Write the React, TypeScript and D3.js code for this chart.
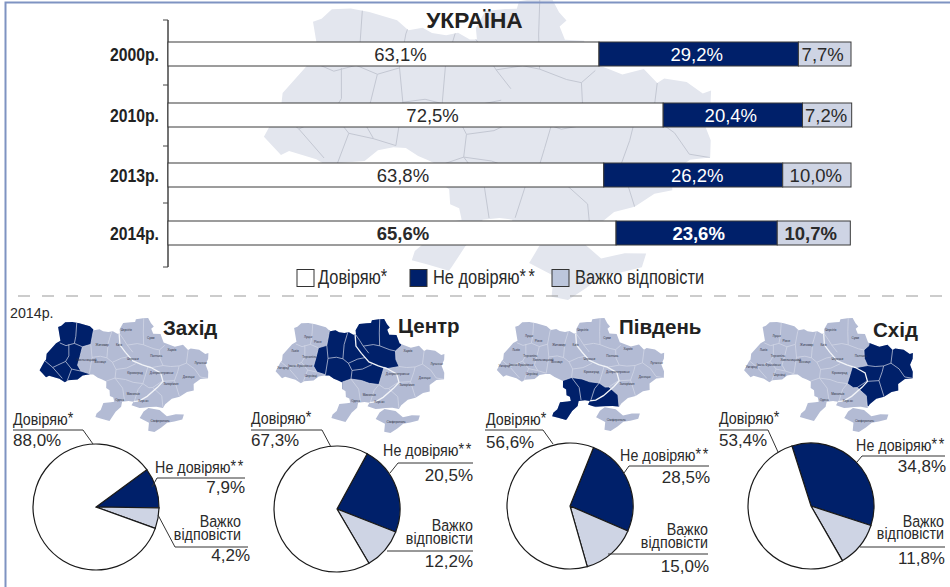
import React from 'react';
import * as d3 from 'd3';

const width = 950;
const height = 587;

// top block
const years = ['2000р.', '2010р.', '2013р.', '2014р.'];
const trust = [63.1, 72.5, 63.8, 65.6];
const distrust = [29.2, 20.4, 26.2, 23.6];
const hard = [7.7, 7.2, 10.0, 10.7];
const trustLabel = 'Довіряю';
const distrustLabel = 'Не довіряю';
const hardLabel = 'Важко відповісти';

// regions
const regionNames = ['Захід', 'Центр', 'Південь', 'Схід'];
const pieTrustLabels = ['88,0%', '67,3%', '56,6%', '53,4%'];
const pieDistrustLabels = ['7,9%', '20,5%', '28,5%', '34,8%'];
const pieHardLabels = ['4,2%', '12,2%', '15,0%', '11,8%'];
// slice shares as they are drawn in the picture, they differ a bit from the printed numbers
const drawnDistrust = [10.3, 23.0, 25.4, 34.9];
const drawnHard = [5.3, 10.6, 14.1, 11.7];
const drawnTrust = [84.4, 66.4, 60.5, 53.4];
const pieStartDeg = [53.7, 28.6, 21.9, -17.6];

const NAVY = '#00206a';
const PALE = '#ced4e4';
const LINE = '#333';
const SANS = '"Liberation Sans", sans-serif';

type P = [number, number];

// map outline, lon/lat
const mainland: P[] = [
  [23.65, 51.55], [24.0, 51.65], [24.4, 51.92], [25.2, 51.98], [26.0, 51.92], [27.2, 51.75], [27.7, 51.5],
  [28.3, 51.58], [28.7, 51.45], [29.3, 51.4], [29.8, 51.47], [30.3, 51.3], [30.6, 51.3], [30.55, 51.6],
  [30.95, 52.05], [31.8, 52.1], [32.3, 52.1], [32.4, 52.3], [33.2, 52.36], [33.8, 52.36], [34.1, 51.98],
  [34.4, 51.75], [34.1, 51.6], [34.3, 51.25], [35.1, 51.2], [35.4, 50.6], [36.1, 50.4], [36.6, 50.25],
  [37.5, 50.35], [38.0, 49.95], [38.3, 50.05], [39.2, 49.9], [39.8, 49.55], [40.15, 49.6], [40.05, 49.2],
  [39.7, 48.8], [39.9, 48.3], [39.8, 47.85], [39.0, 47.85], [38.25, 47.55], [38.2, 47.1], [37.5, 47.05],
  [36.7, 46.75], [35.9, 46.65], [35.2, 46.3], [34.95, 46.05], [34.3, 46.15], [33.6, 46.15], [33.0, 46.12],
  [32.6, 46.1], [31.8, 46.3], [32.0, 46.55], [31.5, 46.6], [30.85, 46.55], [30.75, 46.2], [30.2, 45.85],
  [29.7, 45.3], [29.6, 45.2], [28.8, 45.35], [28.2, 45.45], [28.3, 45.7], [28.7, 45.95], [28.95, 46.45],
  [29.7, 46.5], [30.05, 46.55], [29.95, 46.85], [29.6, 46.95], [29.55, 47.35], [29.2, 47.5], [29.2, 47.95],
  [28.7, 48.1], [28.3, 48.2], [27.8, 48.4], [27.3, 48.4], [26.7, 48.3], [26.2, 48.0], [25.2, 47.9],
  [24.9, 47.75], [24.3, 47.95], [23.2, 48.1], [22.9, 47.97], [22.15, 48.4], [22.55, 49.05], [22.7, 49.2],
  [22.7, 49.6], [23.6, 50.4], [24.05, 50.6],
];
const crimea: P[] = [
  [33.5, 46.08], [34.6, 45.92], [35.3, 45.45], [36.2, 45.55], [37.0, 45.5], [36.8, 45.15], [36.0, 45.05],
  [35.3, 45.0], [34.7, 44.7], [34.0, 44.4], [33.4, 44.5], [33.5, 45.05], [32.6, 45.4], [33.0, 45.85],
];

// highlighted regions, the outer side overshoots and gets clipped by the outline
const regionShapes: P[][] = [
  [[27.8, 53], [27.6, 51.4], [27.4, 50.5], [26.5, 50.3], [26.3, 49.6], [26.1, 49.0], [26.5, 48.6], [27.4, 48.45], [27.3, 47], [21, 47], [21, 53]],
  [[26.5, 50.3], [26.3, 49.6], [26.1, 49.0], [26.5, 48.6], [27.4, 48.45], [27.5, 47], [29.2, 47], [29.2, 47.98], [30.1, 48.2], [31.2, 48.1], [32.0, 47.9], [33.0, 47.8], [33.3, 48.4], [33.6, 49.0], [34.0, 48.9], [35.2, 49.0], [34.9, 49.5], [34.9, 50.1], [35.5, 50.4], [36, 51.5], [35, 53], [27.7, 53], [27.6, 51.4], [27.4, 50.5]],
  [[29.2, 47.98], [30.1, 48.2], [31.2, 48.1], [32.0, 47.9], [33.0, 47.8], [33.6, 47.5], [34.0, 47.5], [34.9, 46.9], [34.95, 46.1], [33.5, 46.14], [32, 46.14], [28, 44.5], [27.5, 47], [29.2, 47]],
  [[33.6, 49.0], [34.0, 48.9], [35.2, 49.0], [34.9, 49.5], [34.9, 50.1], [35.5, 50.4], [36, 51.5], [41, 51], [41, 46], [35.5, 46.1], [34.95, 46.2], [34.9, 46.9], [34.0, 47.5], [33.6, 47.5], [33.0, 47.8], [33.3, 48.4]],
];

// oblast borders
const borders: P[][] = [
  [[25.7, 52.1], [25.7, 51.0], [25.6, 50.5]],
  [[24.0, 50.45], [24.7, 50.3], [25.6, 50.5], [26.5, 50.3]],
  [[25.0, 50.4], [25.1, 49.6], [24.8, 49.2], [24.0, 48.9], [23.5, 48.7], [22.6, 49.1]],
  [[23.5, 48.7], [24.6, 48.0]],
  [[24.8, 49.2], [25.5, 48.7], [25.1, 47.8]],
  [[25.5, 48.7], [26.5, 48.6], [27.4, 48.45]],
  [[26.5, 50.3], [26.3, 49.6], [26.1, 49.0], [26.5, 48.6]],
  [[27.7, 51.6], [27.6, 51.4], [27.4, 50.5], [26.5, 50.3]],
  [[27.4, 50.5], [27.6, 49.6], [27.4, 48.45]],
  [[27.6, 49.6], [28.5, 49.7], [29.2, 49.6], [29.8, 49.3], [30.2, 48.8], [30.1, 48.2], [29.2, 47.98]],
  [[29.7, 51.5], [29.3, 50.6], [29.2, 49.6]],
  [[30.5, 51.35], [31.0, 50.9], [31.4, 50.5], [32.0, 50.0]],
  [[29.8, 49.3], [30.8, 49.6], [31.6, 49.7]],
  [[33.3, 52.4], [33.2, 51.4], [33.2, 50.5]],
  [[31.4, 50.5], [32.5, 50.6], [33.2, 50.5], [34.3, 50.2], [34.9, 50.1], [35.5, 50.4]],
  [[34.9, 50.1], [34.9, 49.5], [35.2, 49.0], [34.0, 48.9], [33.6, 49.0], [33.3, 48.4], [33.0, 47.8]],
  [[30.2, 48.8], [31.3, 48.9], [32.3, 49.2]],
  [[30.1, 48.2], [31.2, 48.1], [32.0, 47.9], [33.0, 47.8], [33.6, 47.5], [34.0, 47.5]],
  [[30.1, 48.2], [30.9, 47.5], [31.1, 46.6]],
  [[33.0, 47.8], [32.5, 47.4], [32.1, 46.6]],
  [[34.0, 47.5], [34.9, 46.9], [34.95, 46.1]],
  [[34.0, 47.5], [35.0, 47.9], [36.3, 47.9], [36.7, 46.75]],
  [[36.3, 47.9], [36.7, 48.5], [36.9, 48.9], [37.7, 49.05], [38.0, 49.95]],
  [[35.2, 49.0], [36.0, 48.9], [36.9, 48.9]],
  [[37.7, 49.05], [38.5, 48.6], [39.0, 48.0], [39.8, 47.85]],
];
const dnipro: P[] = [
  [30.5, 51.3], [30.6, 50.5], [31.2, 50.0], [32.0, 49.4], [33.0, 49.1], [33.9, 48.9], [34.9, 48.5],
  [35.1, 47.9], [34.5, 47.5], [33.4, 46.9], [32.6, 46.6], [32.0, 46.55],
];

// tiny captions on the small maps: name, lon, lat, index of the region it is in (-1 none)
const cities: [string, number, number, number][] = [
  ['Луцьк', 25.3, 50.9, 0], ['Рівне', 26.4, 50.65, 0], ['Львів', 24.0, 49.85, 0], ['Тернопіль', 25.6, 49.55, 0],
  ['Хмельницький', 27.0, 49.3, 1], ['Ужгород', 22.9, 48.65, 0], ['Івано-Франківськ', 24.7, 48.85, 0], ['Чернівці', 25.9, 48.25, 0],
  ['Житомир', 28.65, 50.4, 1], ['Київ', 30.5, 50.45, 1], ['Вінниця', 28.5, 49.2, 1], ['Черкаси', 32.0, 49.45, 1],
  ['Чернігів', 31.3, 51.5, 1], ['Суми', 34.0, 50.9, 1], ['Полтава', 34.5, 49.6, 1], ['Кіровоград', 32.2, 48.5, 1],
  ['Харків', 36.25, 50.0, 3], ['Луганськ', 39.2, 48.9, 3], ['Донецьк', 37.8, 48.0, 3], ['Дніпропетровськ', 35.0, 48.45, 3],
  ['Запоріжжя', 35.9, 47.6, 3], ['Миколаїв', 32.0, 47.0, 2], ['Одеса', 30.6, 46.6, 2], ['Херсон', 33.0, 46.5, 2],
  ['Сімферополь', 34.6, 45.1, -1],
];

const mapBoxes: [P, P][] = [
  [[38, 318], [210, 432]],
  [[273, 319], [447, 433]],
  [[496, 318], [665, 431]],
  [[743, 318], [914, 432]],
];

// fixed spots of the bar block
const barCenters = [54, 115, 175, 233];
const axisTicks = [20, 85, 146, 203, 267];
const trustNudge = [17, 17, 17, 11];
const distrustNudge = [-2, -2, 4, 2];
const hardNudge = [-2, -1, -1, -3];

// pies and their callouts
const pieCenters: P[] = [[96, 507], [337, 509], [570, 506], [811, 506]];
const pieRadius = 63;
const trustLeader: P[][] = [
  [[13, 430], [83, 430], [93, 444]],
  [[251, 430], [322, 430], [331, 447]],
  [[485, 430], [543, 430], [553, 444]],
  [[719, 430], [768, 430], [778, 452]],
];
const distrustLeader: P[][] = [
  [[245, 478], [157, 478], [152, 487]],
  [[473, 463], [398, 463], [390, 473]],
  [[709, 466], [629, 466], [624, 473]],
  [[945, 456], [862, 456], [857, 462]],
];
const hardLeader: P[][] = [
  [[248, 547], [175, 547], [158, 515]],
  [[473, 551], [387, 551]],
  [[708, 554], [608, 554]],
  [[945, 547], [860, 547]],
];
const trustText = [[13, 425, 446], [251, 424, 446], [486, 425, 448], [719, 424, 446]];
const distrustText = [[245, 473, 493], [473, 456, 481], [710, 461, 483], [946, 451, 472]];
const hardText = [[241, 527, 540, 250, 561], [473, 531, 544, 473, 567], [708, 535, 548, 709, 572], [944, 527, 539, 945, 564]];
const titleSpots: P[] = [[163, 335], [398, 333], [619, 334], [873, 337]];

const outlineGeo = { type: 'MultiPoint', coordinates: [...mainland, ...crimea] } as any;
const line = d3.line();
const closed = (pts: P[], proj: d3.GeoProjection) => `${line(pts.map(p => proj(p) as P))}Z`;

// condensed text: no narrow face is installed, so squeeze the regular one
type NarrowProps = {
  x: number; y: number; size: number; squeeze: number; anchor?: string; weight?: string; fill?: string;
  children: React.ReactNode;
};
const Narrow = ({ x, y, size, squeeze, anchor, weight, fill, children }: NarrowProps) => (
  <text transform={`translate(${x},${y}) scale(${squeeze},1)`} fontFamily={SANS} fontSize={size}
    textAnchor={anchor || 'start'} fontWeight={weight || 'normal'} fill={fill || '#2a2a2a'}>
    {children}
  </text>
);

type MapProps = { id: string; box: [P, P]; big?: boolean; highlight?: number };

const UkraineMap = ({ id, box, big, highlight }: MapProps) => {
  const proj = d3.geoConicConformal().parallels([45, 52]).rotate([-31, 0]).fitExtent(box, outlineGeo);
  const land = closed(mainland, proj);
  const isle = closed(crimea, proj);
  return (
    <g>
      <clipPath id={id}><path d={land} /></clipPath>
      <path d={land} fill={big ? '#e3e6ee' : '#b3bbd4'} />
      <path d={isle} fill={big ? '#e3e6ee' : '#b3bbd4'} />
      {highlight !== undefined && (
        <path d={closed(regionShapes[highlight], proj)} fill={NAVY} clipPath={`url(#${id})`} />
      )}
      <g clipPath={`url(#${id})`} fill="none">
        {borders.map((b, i) => (
          <path key={i} d={line(b.map(p => proj(p) as P)) as string}
            stroke={big ? '#c3c7d2' : '#d5dae8'} strokeWidth={big ? 1 : 0.7} />
        ))}
        {!big && (
          <path d={line(dnipro.map(p => proj(p) as P)) as string} stroke="#f2f4f8" strokeWidth={1.3} />
        )}
      </g>
      {!big && cities.filter(c => c[3] !== highlight).map(c => {
        const [x, y] = proj([c[1], c[2]]) as P;
        return (
          <Narrow key={c[0]} x={x} y={y} size={3.6} squeeze={0.85} anchor="middle" fill="#2b2f3f">{c[0]}</Narrow>
        );
      })}
    </g>
  );
};

const Pie = ({ i }: { i: number }) => {
  const start = (pieStartDeg[i] * Math.PI) / 180;
  const arcs = d3.pie<number>().sort(null).startAngle(start).endAngle(start + 2 * Math.PI)(
    [drawnDistrust[i], drawnHard[i], drawnTrust[i]],
  );
  const arc = d3.arc<d3.PieArcDatum<number>>().innerRadius(0).outerRadius(pieRadius);
  const fills = [NAVY, PALE, '#fff'];
  const [cx, cy] = pieCenters[i];
  return (
    <g transform={`translate(${cx},${cy})`}>
      {arcs.map((a, k) => (
        <path key={k} d={arc(a) as string} fill={fills[k]} stroke="#1a1a1a" strokeWidth={1.2} />
      ))}
    </g>
  );
};

const App = () => {
  const x = d3.scaleLinear().domain([0, 100]).range([168, 851]);
  const y = d3.scaleOrdinal<string, number>().domain(years).range(barCenters);
  const rows = years.map((year, i) => ({ year, trust: trust[i], distrust: distrust[i], hard: hard[i] }));
  const stack = d3.stack<any>().keys(['trust', 'distrust', 'hard'])(rows);
  const barFills = ['#fff', NAVY, PALE];
  const textFills = ['#2a2a2a', '#fff', '#2a2a2a'];
  const nudges = [trustNudge, distrustNudge, hardNudge];
  const barH = 24;
  const leader = d3.line();
  const stars = (n: number, gap: number) => <tspan letterSpacing={gap} dy={-1}>{'*'.repeat(n)}</tspan>;

  return (
    <svg width={width} height={height} style={{ position: 'absolute', left: 0, top: 0, background: '#fff' }}>
      <UkraineMap id="map-big" box={[[258, -2], [717, 300]]} big />
      <path d={`M5.5,${height}V2.5H${width}`} fill="none" stroke="#7f93c2" strokeWidth={2} />

      <text x={474.5} y={28} textAnchor="middle" fontFamily={SANS} fontWeight="bold" fontSize={22.7} fill="#222">УКРАЇНА</text>

      {/* axis */}
      <line x1={168} x2={168} y1={axisTicks[0]} y2={axisTicks[4]} stroke="#444" strokeWidth={1.5} />
      {axisTicks.map(t => <line key={t} x1={163} x2={168} y1={t} y2={t} stroke="#444" strokeWidth={1} />)}
      {years.map(yr => (
        <Narrow key={yr} x={159} y={(y(yr) as number) + 6.5} size={19} squeeze={0.83} anchor="end" weight="bold" fill="#222">{yr}</Narrow>
      ))}

      {/* bars */}
      {stack.map((s, k) => s.map((d, i) => (
        <g key={`${k}-${i}`}>
          <rect x={x(d[0])} y={barCenters[i] - barH / 2} width={x(d[1]) - x(d[0])} height={barH}
            fill={barFills[k]} stroke="#3a3a3a" strokeWidth={1} />
          <text x={(x(d[0]) + x(d[1])) / 2 + nudges[k][i]} y={barCenters[i] + 7} textAnchor="middle"
            fontFamily={SANS} fontSize={18.5} fontWeight={i === 3 ? 'bold' : 'normal'} fill={textFills[k]}>
            {`${(d[1] - d[0]).toFixed(1).replace('.', ',')}%`}
          </text>
        </g>
      )))}

      {/* legend */}
      <rect x={297} y={269.5} width={17} height={17} fill="#fff" stroke="#333" />
      <Narrow x={318} y={284} size={20} squeeze={0.82}>{trustLabel}{stars(1, 0)}</Narrow>
      <rect x={410} y={269.5} width={17} height={17} fill={NAVY} stroke="#333" />
      <Narrow x={433} y={284} size={20} squeeze={0.82}>{distrustLabel}{stars(2, 3)}</Narrow>
      <rect x={552} y={269.5} width={17} height={17} fill="#bcc6dc" stroke="#333" />
      <Narrow x={575} y={284} size={20} squeeze={0.82}>{hardLabel}</Narrow>

      <line x1={18} x2={947} y1={296} y2={296} stroke="#999" strokeWidth={1} strokeDasharray="12 12" />
      <Narrow x={10} y={318} size={15} squeeze={0.95}>2014р.</Narrow>

      {regionNames.map((name, i) => (
        <g key={name}>
          <UkraineMap id={`map-${i}`} box={mapBoxes[i]} highlight={i} />
          <text x={titleSpots[i][0]} y={titleSpots[i][1]} fontFamily={SANS} fontWeight="bold" fontSize={20.5} fill="#222">{name}</text>
          <Pie i={i} />
          <g fill="none" stroke={LINE} strokeWidth={1}>
            <path d={leader(trustLeader[i]) as string} />
            <path d={leader(distrustLeader[i]) as string} />
            <path d={leader(hardLeader[i]) as string} />
          </g>
          <Narrow x={trustText[i][0]} y={trustText[i][1]} size={17} squeeze={0.84}>{trustLabel}{stars(1, 0)}</Narrow>
          <text x={trustText[i][0]} y={trustText[i][2]} fontFamily={SANS} fontSize={17} fill="#2a2a2a">{pieTrustLabels[i]}</text>
          <Narrow x={distrustText[i][0]} y={distrustText[i][1]} size={17} squeeze={0.84} anchor="end">{distrustLabel}{stars(2, 2)}</Narrow>
          <text x={distrustText[i][0]} y={distrustText[i][2]} textAnchor="end" fontFamily={SANS} fontSize={17} fill="#2a2a2a">{pieDistrustLabels[i]}</text>
          <Narrow x={hardText[i][0]} y={hardText[i][1]} size={17} squeeze={0.84} anchor="end">Важко</Narrow>
          <Narrow x={hardText[i][0]} y={hardText[i][2]} size={17} squeeze={0.84} anchor="end">відповісти</Narrow>
          <text x={hardText[i][3]} y={hardText[i][4]} textAnchor="end" fontFamily={SANS} fontSize={17} fill="#2a2a2a">{pieHardLabels[i]}</text>
        </g>
      ))}
    </svg>
  );
};

export default App;
